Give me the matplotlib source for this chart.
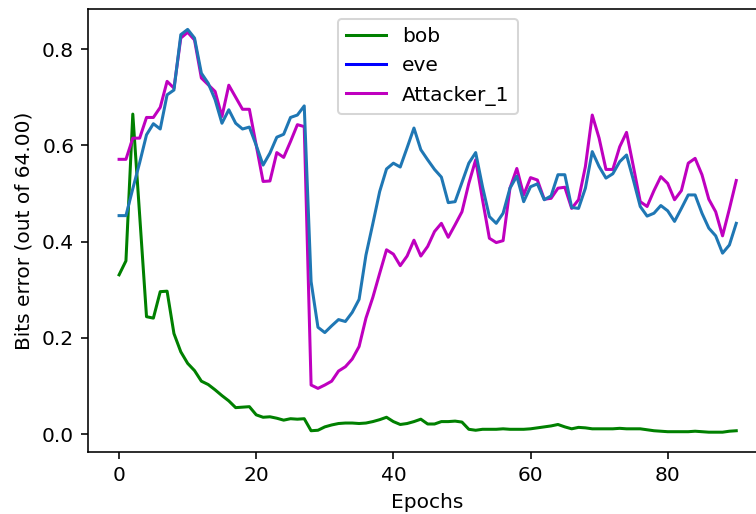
import matplotlib
matplotlib.use("Agg")
import matplotlib.pyplot as plt
import numpy as np

# Bit error rates per training epoch (fraction of the 64-bit message)
bob = [0.331, 0.360, 0.665, 0.455, 0.244, 0.241, 0.296, 0.297, 0.209, 0.171,
       0.147, 0.132, 0.110, 0.103, 0.092, 0.080, 0.069, 0.055, 0.056, 0.057,
       0.040, 0.035, 0.036, 0.033, 0.029, 0.032, 0.031, 0.032, 0.007, 0.008,
       0.015, 0.019, 0.022, 0.023, 0.023, 0.022, 0.023, 0.026, 0.030, 0.035,
       0.026, 0.020, 0.022, 0.026, 0.031, 0.021, 0.021, 0.026, 0.026, 0.027,
       0.025, 0.010, 0.008, 0.010, 0.010, 0.010, 0.011, 0.010, 0.010, 0.010,
       0.011, 0.013, 0.015, 0.017, 0.020, 0.015, 0.011, 0.014, 0.013, 0.011,
       0.011, 0.011, 0.011, 0.012, 0.011, 0.011, 0.011, 0.009, 0.007, 0.006,
       0.005, 0.005, 0.005, 0.005, 0.006, 0.005, 0.004, 0.004, 0.004, 0.006,
       0.007]

eve = [0.454, 0.454, 0.510, 0.564, 0.622, 0.645, 0.634, 0.705, 0.715, 0.830,
       0.841, 0.823, 0.750, 0.729, 0.695, 0.646, 0.674, 0.646, 0.634, 0.638,
       0.600, 0.559, 0.584, 0.617, 0.623, 0.658, 0.663, 0.682, 0.317, 0.222,
       0.211, 0.225, 0.238, 0.234, 0.253, 0.280, 0.372, 0.437, 0.504, 0.551,
       0.563, 0.555, 0.595, 0.636, 0.591, 0.570, 0.550, 0.534, 0.481, 0.483,
       0.523, 0.563, 0.585, 0.514, 0.452, 0.438, 0.459, 0.511, 0.536, 0.483,
       0.514, 0.520, 0.487, 0.495, 0.539, 0.539, 0.471, 0.469, 0.511, 0.587,
       0.556, 0.532, 0.541, 0.566, 0.580, 0.528, 0.473, 0.453, 0.459, 0.475,
       0.464, 0.442, 0.469, 0.497, 0.497, 0.459, 0.428, 0.412, 0.376, 0.393,
       0.438]

attacker_1 = [0.571, 0.571, 0.615, 0.615, 0.658, 0.658, 0.679, 0.733, 0.719, 0.823,
              0.835, 0.819, 0.740, 0.726, 0.712, 0.660, 0.725, 0.700, 0.675, 0.675,
              0.600, 0.525, 0.526, 0.585, 0.575, 0.608, 0.643, 0.639, 0.102, 0.095,
              0.102, 0.110, 0.131, 0.140, 0.156, 0.182, 0.241, 0.284, 0.334, 0.383,
              0.374, 0.350, 0.370, 0.403, 0.370, 0.390, 0.421, 0.438, 0.409, 0.435,
              0.462, 0.521, 0.570, 0.487, 0.407, 0.398, 0.402, 0.511, 0.552, 0.497,
              0.533, 0.528, 0.488, 0.490, 0.511, 0.513, 0.469, 0.487, 0.556, 0.663,
              0.615, 0.550, 0.550, 0.597, 0.627, 0.556, 0.483, 0.473, 0.506, 0.535,
              0.521, 0.487, 0.506, 0.563, 0.573, 0.539, 0.488, 0.462, 0.412, 0.468,
              0.527]

epochs = np.arange(len(bob))

s = 1.45  # scale of the default style
fs = 10 * s
lw = 1.5 * s
plt.rcParams.update({
    "font.size": fs,
    "axes.linewidth": 0.8 * s,
    "xtick.major.width": 0.8 * s,
    "ytick.major.width": 0.8 * s,
    "xtick.major.size": 3.5 * s,
    "ytick.major.size": 3.5 * s,
    "xtick.major.pad": 3.5 * s,
    "ytick.major.pad": 3.5 * s,
    "axes.labelpad": 4.0 * s,
    "legend.frameon": True,
})

fig = plt.figure(figsize=(7.56, 5.14), dpi=100)
ax = fig.add_axes([0.1167, 0.120, 0.898, 0.862])

ax.plot(epochs, bob, color="g", lw=lw, label="bob")
ax.plot(epochs, eve, color="#1f77b4", lw=lw, label="eve", zorder=2.5)
ax.plot(epochs, attacker_1, color="m", lw=lw, label="Attacker_1")

ax.set_xticks([0, 20, 40, 60, 80])
ax.set_yticks([0.0, 0.2, 0.4, 0.6, 0.8])
ax.set_xlabel("Epochs", fontsize=fs)
ax.set_ylabel("Bits error (out of 64.00)", fontsize=fs)

leg = ax.legend(loc="upper center", fontsize=fs)
leg.get_frame().set_linewidth(1.0 * s)
leg.legend_handles[1].set_color("blue")

fig.savefig("out.png", dpi=100)
